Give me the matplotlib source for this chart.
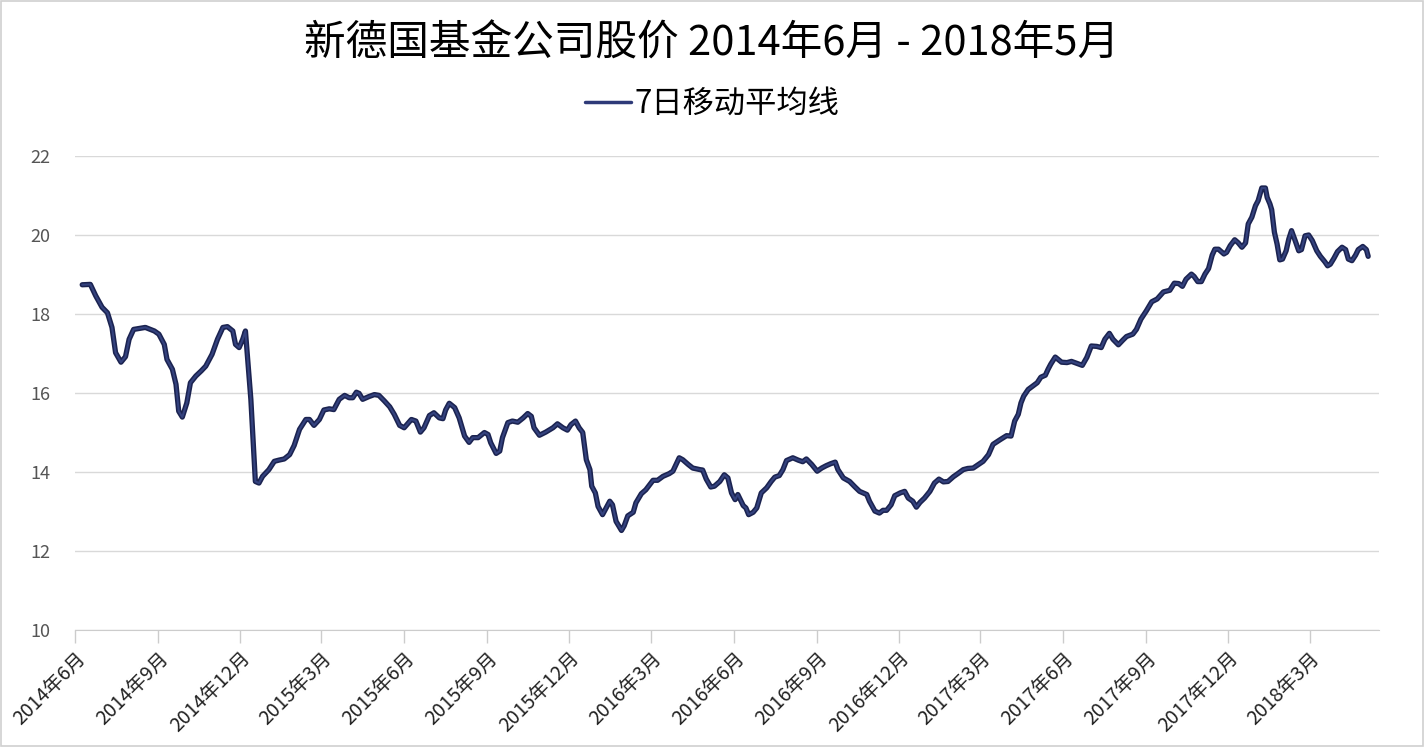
import datetime as dt
import matplotlib
matplotlib.use("Agg")
import matplotlib.pyplot as plt
import matplotlib.patheffects as pe
from matplotlib.patches import Rectangle

plt.rcParams['font.family'] = ['Noto Sans CJK SC', 'DejaVu Sans']

# Data: days after 2014-06-01 and 7-day moving average price
start = dt.date(2014, 6, 1)
day_offset = [
    8, 17, 23, 30, 36, 41, 45, 51, 56, 60, 65, 78, 88, 93, 99, 102, 108, 112, 115, 119,
    124, 128, 134, 140, 145, 152, 158, 164, 169, 175, 178, 182, 186, 189, 195, 200, 204, 208, 215,
    221, 226, 232, 238, 243, 249, 256, 260, 265, 271, 276, 282, 287, 293, 299, 304, 308, 312,
    315, 319, 326, 332, 337, 343, 349, 354, 360, 365, 373, 378, 383, 387, 393, 398, 404, 408,
    411, 415, 421, 426, 432, 437, 441, 447, 454, 458, 461, 467, 471, 474, 480, 485, 491, 497,
    502, 506, 509, 515, 522, 530, 535, 541, 546, 550, 555, 559, 563, 567, 571, 573, 577, 580,
    585, 589, 593, 596, 600, 606, 609, 613, 619, 622, 628, 633, 641, 646, 652, 659, 663, 670,
    674, 680, 685, 693, 696, 700, 705, 709, 715, 720, 724, 728, 732, 735, 741, 744, 747, 752,
    756, 761, 767, 772, 776, 781, 785, 789, 796, 802, 807, 811, 817, 823, 828, 833, 838, 843,
    846, 852, 859, 865, 870, 878, 881, 887, 892, 896, 900, 905, 909, 915, 920, 924, 929, 933,
    937, 942, 948, 953, 958, 963, 968, 974, 979, 985, 990, 996, 1003, 1007, 1013, 1018, 1026,
    1033, 1038, 1042, 1046, 1049, 1052, 1057, 1063, 1067, 1071, 1076, 1079, 1082, 1087, 1094,
    1100, 1105, 1111, 1117, 1122, 1127, 1133, 1138, 1142, 1147, 1151, 1157, 1162, 1166, 1173,
    1177, 1182, 1188, 1194, 1200, 1207, 1214, 1219, 1224, 1228, 1232, 1238, 1241, 1245, 1249,
    1253, 1257, 1261, 1264, 1268, 1274, 1277, 1281, 1286, 1290, 1294, 1298, 1301, 1305, 1309,
    1312, 1316, 1320, 1322, 1325, 1327, 1330, 1333, 1336, 1339, 1343, 1346, 1349, 1353, 1357,
    1360, 1364, 1368, 1372, 1377, 1381, 1386, 1389, 1392, 1396, 1400, 1405, 1409, 1412, 1416,
    1420, 1423, 1428, 1432, 1434,
]
price = [
    18.74, 18.75, 18.46, 18.17, 18.03, 17.66, 17.02, 16.78, 16.92, 17.36, 17.61, 17.66, 17.57,
    17.49, 17.23, 16.85, 16.60, 16.22, 15.54, 15.39, 15.75, 16.26, 16.43, 16.56, 16.68, 16.98,
    17.36, 17.66, 17.68, 17.57, 17.23, 17.15, 17.36, 17.57, 15.84, 13.76, 13.72, 13.89, 14.06,
    14.27, 14.30, 14.33, 14.44, 14.67, 15.08, 15.33, 15.33, 15.18, 15.33, 15.57, 15.60, 15.58,
    15.84, 15.94, 15.88, 15.88, 16.02, 15.99, 15.84, 15.91, 15.96, 15.94, 15.80, 15.65, 15.46,
    15.18, 15.12, 15.33, 15.29, 15.01, 15.12, 15.43, 15.50, 15.37, 15.35, 15.57, 15.74, 15.63,
    15.37, 14.91, 14.75, 14.87, 14.87, 15.00, 14.95, 14.74, 14.47, 14.53, 14.87, 15.25, 15.29,
    15.26, 15.37, 15.48, 15.41, 15.12, 14.93, 15.01, 15.12, 15.22, 15.12, 15.06, 15.20, 15.29,
    15.12, 15.00, 14.31, 14.06, 13.64, 13.47, 13.13, 12.92, 13.09, 13.26, 13.17, 12.75, 12.52,
    12.64, 12.89, 12.98, 13.22, 13.45, 13.55, 13.79, 13.79, 13.89, 13.96, 14.02, 14.36, 14.31,
    14.19, 14.10, 14.06, 14.05, 13.82, 13.62, 13.64, 13.76, 13.93, 13.85, 13.47, 13.30, 13.43,
    13.15, 13.09, 12.92, 12.98, 13.09, 13.47, 13.60, 13.76, 13.87, 13.91, 14.06, 14.29, 14.36,
    14.30, 14.26, 14.33, 14.19, 14.02, 14.10, 14.16, 14.21, 14.25, 14.06, 13.85, 13.76, 13.62,
    13.51, 13.43, 13.26, 13.01, 12.96, 13.03, 13.03, 13.17, 13.40, 13.47, 13.51, 13.34, 13.26,
    13.11, 13.23, 13.34, 13.51, 13.72, 13.82, 13.75, 13.76, 13.88, 13.96, 14.06, 14.09, 14.10,
    14.21, 14.27, 14.44, 14.70, 14.82, 14.92, 14.91, 15.29, 15.46, 15.75, 15.92, 16.09, 16.19,
    16.26, 16.40, 16.45, 16.60, 16.73, 16.91, 16.78, 16.77, 16.80, 16.75, 16.70, 16.90, 17.19,
    17.18, 17.15, 17.36, 17.51, 17.36, 17.22, 17.34, 17.43, 17.49, 17.61, 17.87, 18.08, 18.31,
    18.38, 18.56, 18.60, 18.78, 18.77, 18.70, 18.88, 19.01, 18.95, 18.82, 18.82, 19.01, 19.15,
    19.49, 19.64, 19.64, 19.52, 19.56, 19.73, 19.88, 19.80, 19.69, 19.80, 20.28, 20.45, 20.74,
    20.87, 21.19, 21.19, 20.95, 20.79, 20.64, 20.07, 19.77, 19.37, 19.39, 19.60, 19.90, 20.11,
    19.86, 19.60, 19.63, 19.98, 20.00, 19.86, 19.60, 19.46, 19.32, 19.22, 19.26, 19.41, 19.58,
    19.69, 19.63, 19.39, 19.35, 19.49, 19.63, 19.71, 19.63, 19.46,
]
tick_dates = [dt.date(2014, 6, 1), dt.date(2014, 9, 1), dt.date(2014, 12, 1),
              dt.date(2015, 3, 1), dt.date(2015, 6, 1), dt.date(2015, 9, 1),
              dt.date(2015, 12, 1), dt.date(2016, 3, 1), dt.date(2016, 6, 1),
              dt.date(2016, 9, 1), dt.date(2016, 12, 1), dt.date(2017, 3, 1),
              dt.date(2017, 6, 1), dt.date(2017, 9, 1), dt.date(2017, 12, 1),
              dt.date(2018, 3, 1)]
tick_labels = [f"{d.year}年{d.month}月" for d in tick_dates]

dates = [start + dt.timedelta(days=d) for d in day_offset]

fig = plt.figure(figsize=(14.24, 7.47), dpi=100)
ax = fig.add_axes([75 / 1424, 1 - 630 / 747, (1379 - 75) / 1424, (630 - 156) / 747])

line, = ax.plot(dates, price, color='#34427e', linewidth=1.5, label='7日移动平均线',
                solid_capstyle='round', solid_joinstyle='round',
                path_effects=[pe.Stroke(linewidth=3.8, foreground='#1b2350'), pe.Normal()])

ax.set_ylim(10, 22)
ax.set_yticks([10, 12, 14, 16, 18, 20, 22])
ax.set_xlim(start, start + dt.timedelta(days=1446))
ax.set_xticks(tick_dates)
ax.set_xticklabels(tick_labels, rotation=45, ha='right', va='top', rotation_mode='anchor',
                   fontsize=14, color='#222222')
ax.tick_params(axis='y', length=0, labelsize=13, labelcolor='#555555', pad=18)
ax.tick_params(axis='x', length=9, width=1, color='#cccccc', pad=4)

ax.grid(axis='y', color='#d9d9d9', linewidth=1)
ax.set_axisbelow(True)
for s in ['top', 'right', 'left']:
    ax.spines[s].set_visible(False)
ax.spines['bottom'].set_color('#cccccc')

fig.text(0.5, 1 - 44 / 747, '新德国基金公司股价 2014年6月 - 2018年5月',
         ha='center', va='center', fontsize=30, color='black')

leg = fig.legend(handles=[line], loc='center', bbox_to_anchor=(0.5, 1 - 104 / 747),
                 frameon=False, fontsize=22.5, handlelength=1.5, handletextpad=0.1)
leg.get_lines()[0].set_path_effects([])
leg.get_lines()[0].set_color('#2e3a78')
leg.get_lines()[0].set_linewidth(2.5)

fig.patches.append(Rectangle((0.001, 0.001), 0.998, 0.997, transform=fig.transFigure,
                             fill=False, edgecolor='#d0d0d0', linewidth=1.2))

fig.savefig('out.png', dpi=100)
